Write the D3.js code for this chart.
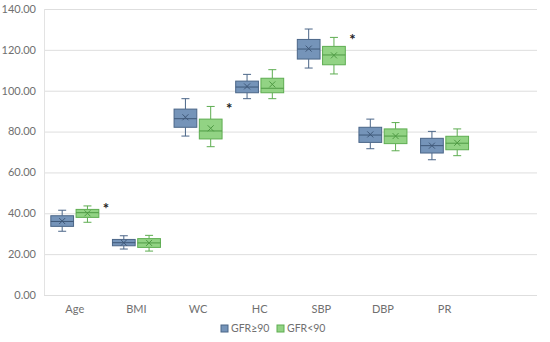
<!DOCTYPE html>
<html><head><meta charset="utf-8">
<script src="https://cdn.jsdelivr.net/npm/d3@7/dist/d3.min.js"></script>
<style>body{margin:0;background:#fff;}text{font-family:"Lato","Open Sans",sans-serif;}</style>
</head><body><svg id="c" width="550" height="342"></svg>
<script>
const categories = ["Age","BMI","WC","HC","SBP","DBP","PR"];
const series = ["GFR≥90","GFR<90"];
const yTicks = [0,20,40,60,80,100,120,140];
// [whiskerLow, q1, median, q3, whiskerHigh, mean]
const gfrHigh = [
  [31.2,33.6,36.0,38.8,41.5,36.2],
  [22.5,24.1,25.6,27.2,29.0,25.6],
  [77.8,82.1,86.3,91.0,96.1,87.0],
  [96.1,99.0,101.8,104.7,108.0,102.1],
  [111.1,115.5,120.4,125.1,130.2,120.6],
  [71.6,74.7,78.3,82.1,86.1,78.6],
  [66.2,69.5,73.1,76.7,80.1,73.1]
];
const gfrLow = [
  [35.6,38.0,40.3,41.9,43.6,40.0],
  [21.5,23.3,25.5,27.6,29.2,25.5],
  [72.6,76.4,80.3,86.1,92.3,81.6],
  [96.1,99.0,101.2,106.1,110.3,103.1],
  [108.2,112.7,117.5,121.7,126.1,117.3],
  [70.6,74.1,77.8,81.3,84.4,77.8],
  [68.2,71.1,74.3,77.7,81.3,74.5]
];
const significant = ["Age","WC","SBP"];

const svg = d3.select("#c");
const L = 44, R = 537, T = 9, B = 295;
const x = d3.scaleBand().domain([...categories, ""]).range([L, R]);
const y = d3.scaleLinear().domain([0,140]).range([B, T]);
const x1 = d3.scaleBand().domain(series).range([-24, 24]).paddingInner(0.1);
const fills = ["#7594b9","#92d384"];
const strokes = ["#4b6688","#5ead51"];
const medStroke = ["#3f5878","#4f9a44"];

// gridlines
svg.append("g").selectAll("line").data(yTicks).join("line")
  .attr("x1", L).attr("x2", R).attr("y1", d=>y(d)+0.5).attr("y2", d=>y(d)+0.5)
  .attr("stroke", "#dedede").attr("stroke-width", 1);
svg.append("line").attr("x1", L+0.5).attr("x2", L+0.5).attr("y1", T).attr("y2", B)
  .attr("stroke", "#e3e3e3");

// y tick labels
svg.append("g").selectAll("text").data(yTicks).join("text")
  .attr("x", 36).attr("y", d=>y(d)).attr("dy", "0.35em").attr("text-anchor", "end")
  .attr("font-size", 11).attr("fill", "#707070").text(d=>d3.format(".2f")(d));

// x labels
svg.append("g").selectAll("text").data(categories).join("text")
  .attr("x", d=>x(d)+x.bandwidth()/2).attr("y", 313).attr("text-anchor", "middle")
  .attr("font-size", 11).attr("fill", "#707070").text(d=>d);

const data = [gfrHigh, gfrLow];
series.forEach((s, si) => {
  const g = svg.append("g");
  categories.forEach((c, ci) => {
    const [wl, q1, med, q3, wh, mean] = data[si][ci];
    const cx = x(c) + x.bandwidth()/2 + x1(s) + x1.bandwidth()/2;
    const bw = x1.bandwidth();
    const st = strokes[si];
    const gg = g.append("g");
    gg.append("line").attr("x1", cx).attr("x2", cx).attr("y1", y(wh)).attr("y2", y(q3)).attr("stroke", st);
    gg.append("line").attr("x1", cx).attr("x2", cx).attr("y1", y(q1)).attr("y2", y(wl)).attr("stroke", st);
    gg.append("line").attr("x1", cx-4).attr("x2", cx+4).attr("y1", y(wh)).attr("y2", y(wh)).attr("stroke", st);
    gg.append("line").attr("x1", cx-4).attr("x2", cx+4).attr("y1", y(wl)).attr("y2", y(wl)).attr("stroke", st);
    gg.append("rect").attr("x", cx-bw/2).attr("y", y(q3)).attr("width", bw).attr("height", y(q1)-y(q3))
      .attr("fill", fills[si]).attr("stroke", st);
    gg.append("line").attr("x1", cx-bw/2).attr("x2", cx+bw/2).attr("y1", y(med)).attr("y2", y(med)).attr("stroke", medStroke[si]);
    const my = y(mean), m = 3;
    gg.append("path").attr("d", `M${cx-m},${my-m}L${cx+m},${my+m}M${cx-m},${my+m}L${cx+m},${my-m}`)
      .attr("stroke", medStroke[si]).attr("stroke-width", 1);
  });
});

// significance asterisks
significant.forEach(c => {
  const ci = categories.indexOf(c);
  const cx = x(c) + x.bandwidth()/2 + x1(series[1]) + x1.bandwidth() + 7;
  svg.append("text").attr("x", cx).attr("y", y(gfrLow[ci][4]) + 8).attr("text-anchor", "middle")
    .attr("font-size", 15).attr("font-weight", "bold").attr("fill", "#222").text("*");
});

// legend
const leg = svg.append("g").attr("transform", "translate(221,332)");
const legX = [0, 56];
series.forEach((s, si) => {
  leg.append("rect").attr("x", legX[si]).attr("y", -7).attr("width", 7).attr("height", 7)
    .attr("fill", fills[si]).attr("stroke", strokes[si]);
  leg.append("text").attr("x", legX[si]+10).attr("y", 0).attr("font-size", 10.5).attr("fill", "#707070").text(s);
});
</script></body></html>
